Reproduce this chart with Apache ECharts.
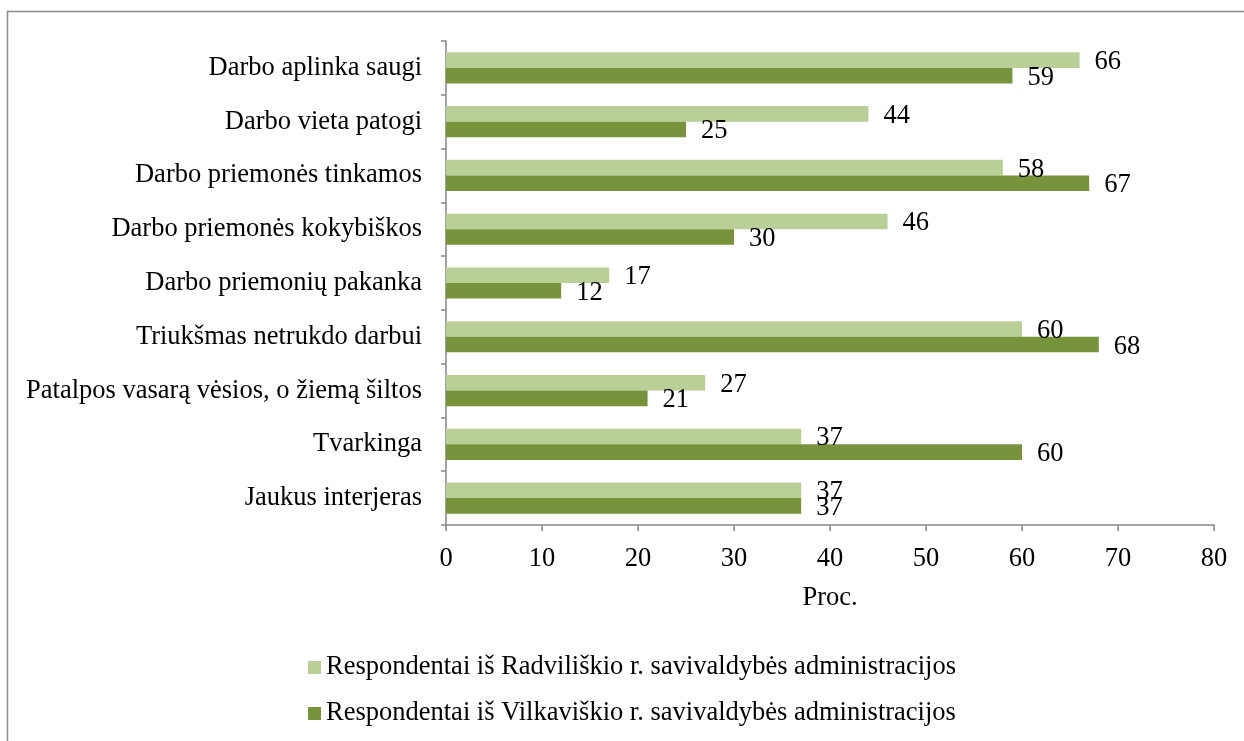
<!DOCTYPE html>
<html>
<head>
<meta charset="utf-8">
<style>
  html, body { margin: 0; padding: 0; background: #ffffff; }
  #chart { width: 1244px; height: 741px; }
</style>
<script src="https://cdn.jsdelivr.net/npm/echarts@6/dist/echarts.min.js"></script>
</head>
<body>
<div id="chart"></div>
<script>
// Darbo aplinkos vertinimas, proc.
const categories = [
  'Darbo aplinka saugi',
  'Darbo vieta patogi',
  'Darbo priemonės tinkamos',
  'Darbo priemonės kokybiškos',
  'Darbo priemonių pakanka',
  'Triukšmas netrukdo darbui',
  'Patalpos vasarą vėsios, o žiemą šiltos',
  'Tvarkinga',
  'Jaukus interjeras'
];
const radviliskis = [66, 44, 58, 46, 17, 60, 27, 37, 37];
const vilkaviskis = [59, 25, 67, 30, 12, 68, 21, 60, 37];
const seriesNames = [
  'Respondentai iš Radviliškio r. savivaldybės administracijos',
  'Respondentai iš Vilkaviškio r. savivaldybės administracijos'
];
const xTicks = { min: 0, max: 80, step: 10 };

const FONT = '"Liberation Serif", "Times New Roman", serif';
const FS = 26.5;
const AXIS_GREY = '#868686';

const chart = echarts.init(document.getElementById('chart'), null, { renderer: 'canvas' });

const labelStyle = {
  show: true,
  position: 'right',
  distance: 15,
  offset: [0, 2],
  color: '#000',
  fontFamily: FONT,
  fontSize: FS
};

chart.setOption({
  animation: false,
  backgroundColor: '#ffffff',
  textStyle: { fontFamily: FONT, color: '#000' },
  graphic: [{
    type: 'rect',
    silent: true,
    shape: { x: 7.5, y: 11.5, width: 1400, height: 900 },
    style: { fill: 'none', stroke: '#8c8c8c', lineWidth: 1.5 }
  }],
  grid: { left: 446, right: 30, top: 41, bottom: 216, containLabel: false },
  legend: {
    orient: 'vertical',
    left: 308,
    top: 654,
    padding: 0,
    itemWidth: 13,
    itemHeight: 13,
    itemGap: 19,
    icon: 'rect',
    textStyle: { fontFamily: FONT, fontSize: FS, color: '#000', lineHeight: 26 },
    data: seriesNames
  },
  xAxis: {
    type: 'value',
    min: xTicks.min,
    max: xTicks.max,
    interval: xTicks.step,
    name: 'Proc.',
    nameLocation: 'middle',
    nameGap: 60,
    nameTextStyle: { fontFamily: FONT, fontSize: FS, color: '#000' },
    axisLine: { show: true, lineStyle: { color: AXIS_GREY, width: 1.5 } },
    axisTick: { show: true, length: 6, lineStyle: { color: AXIS_GREY, width: 1.5 } },
    axisLabel: { margin: 21, fontFamily: FONT, fontSize: FS, color: '#000' },
    splitLine: { show: false }
  },
  yAxis: {
    type: 'category',
    inverse: true,
    data: categories,
    axisLine: { show: true, lineStyle: { color: AXIS_GREY, width: 1.5 } },
    axisTick: { show: true, length: 5, alignWithLabel: false, lineStyle: { color: AXIS_GREY, width: 1.5 } },
    axisLabel: { margin: 24, fontFamily: FONT, fontSize: FS, color: '#000' },
    splitLine: { show: false }
  },
  series: [
    {
      name: seriesNames[0],
      type: 'bar',
      data: radviliskis,
      barGap: '0%',
      barCategoryGap: '42%',
      itemStyle: { color: '#BACF98' },
      label: labelStyle
    },
    {
      name: seriesNames[1],
      type: 'bar',
      data: vilkaviskis,
      barGap: '0%',
      barCategoryGap: '42%',
      itemStyle: { color: '#77933C' },
      label: labelStyle
    }
  ]
});
</script>
</body>
</html>
